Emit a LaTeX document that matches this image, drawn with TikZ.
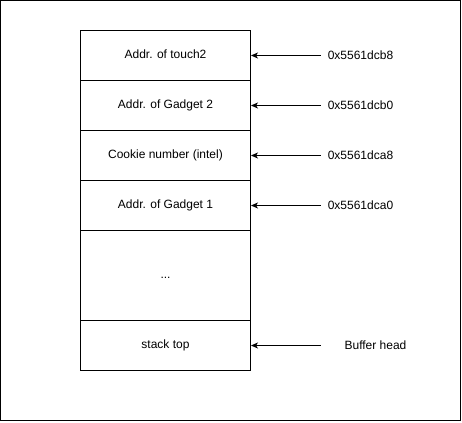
\documentclass[tikz,border=0pt]{standalone}
\usepackage{fontspec}
\setmainfont{Liberation Sans}
\usepackage{tikz}
\usetikzlibrary{arrows.meta}

\begin{document}
\begin{tikzpicture}[x=1pt,y=-1pt]
    \tikzstyle{cell} = [draw,line width=1pt,minimum width=170pt,minimum height=50pt,inner sep=0pt,text height=8.5pt,text depth=2.5pt,font=\fontsize{12}{14}\selectfont]
    \tikzstyle{addr} = [font=\fontsize{12}{14}\selectfont]
    \useasboundingbox (-0.5,-0.5) rectangle (461.5,421.5);
    \draw[line width=1pt] (0,0) rectangle (460,420);

    \node[cell] at (165,55) (touch) {Addr. of touch2};
    \node[cell] at (165,105) (gad2) {Addr. of Gadget 2};
    \node[cell] at (165,155) (cookie) {Cookie number (intel)};
    \node[cell] at (165,205) (gad1) {Addr. of Gadget 1};
    \node[cell,minimum height=90pt] at (165,275) (dots) {...};
    \node[cell] at (165,345) (top) {stack top};

    \node[addr] at (360,55) (a1) {0x5561dcb8};
    \node[addr] at (360,105) (a2) {0x5561dcb0};
    \node[addr] at (360,155) (a3) {0x5561dca8};
    \node[addr] at (360,205) (a4) {0x5561dca0};
    \node[addr] at (375,345) (head) {Buffer head};

    \coordinate (s1) at (320,55);
    \coordinate (s2) at (320,105);
    \coordinate (s3) at (320,155);
    \coordinate (s4) at (320,205);
    \coordinate (s5) at (320,345);

    \draw[line width=1pt,-{Stealth[length=7pt,width=6pt,inset=2pt]}] (s1) -- (touch);
    \draw[line width=1pt,-{Stealth[length=7pt,width=6pt,inset=2pt]}] (s2) -- (gad2);
    \draw[line width=1pt,-{Stealth[length=7pt,width=6pt,inset=2pt]}] (s3) -- (cookie);
    \draw[line width=1pt,-{Stealth[length=7pt,width=6pt,inset=2pt]}] (s4) -- (gad1);
    \draw[line width=1pt,-{Stealth[length=7pt,width=6pt,inset=2pt]}] (s5) -- (top);

\end{tikzpicture}
\end{document}
